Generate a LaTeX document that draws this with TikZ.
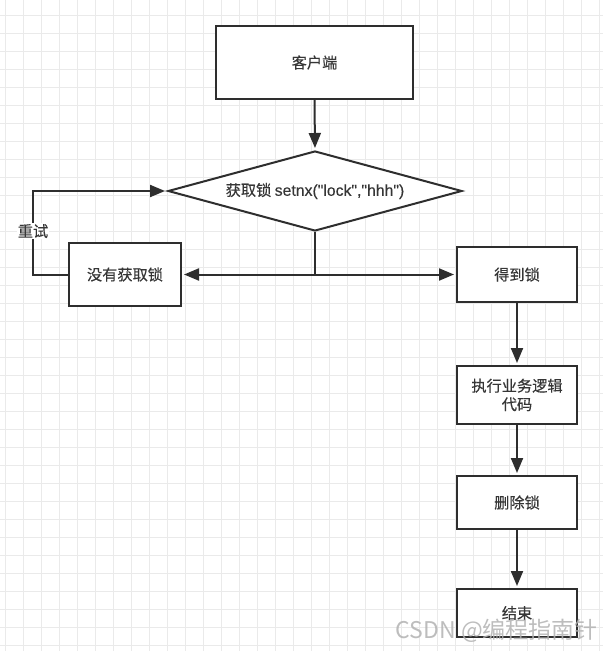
\documentclass[tikz,border=0pt]{standalone}
\usepackage{fontspec}
\setmainfont{Noto Sans CJK SC}[Ligatures=TeXOff]
\newfontfamily\lbl{Noto Sans CJK SC}[Ligatures=TeXOff,FakeBold=0.35]
\newfontfamily\lat{Liberation Sans}[Ligatures=TeXOff,FakeBold=0.35]
\usetikzlibrary{arrows.meta,shapes.geometric}
\definecolor{ink}{HTML}{2E2E2E}
\definecolor{txt}{HTML}{363636}
\definecolor{gridminor}{HTML}{EAEAEA}
\tikzset{
  lblfont/.style={font=\lbl\fontsize{15.2}{18.5}\selectfont},
  box/.style={draw=ink, line width=2pt, fill=white, text=txt, lblfont, align=center, inner sep=0pt},
  conn/.style={draw=ink, line width=2pt},
  arr/.style={conn, -{Triangle[length=15pt,width=12pt]}, shorten >=2pt},
}
\begin{document}
\begin{tikzpicture}[x=1pt,y=-1pt]
\useasboundingbox (0,0) rectangle (603,651);
\fill[white] (0,0) rectangle (603,651);
% grid
\foreach \i in {0,...,33} {
  \pgfmathsetmacro{\xx}{5+18*\i}
  \draw[gridminor, line width=0.8pt] (\xx,0) -- (\xx,651);
}
\foreach \i in {0,...,35} {
  \pgfmathsetmacro{\yy}{15+18*\i}
  \draw[gridminor, line width=0.8pt] (0,\yy) -- (603,\yy);
}
% nodes
\node[box, minimum width=197pt, minimum height=73pt] (client) at (314.5,62.5) {客户端};
\node[box, shape=diamond, aspect=3.675, minimum width=294pt, minimum height=80pt] (dec) at (315,191) {获取锁 {\lat\fontsize{15.8}{18.5}\selectfont setnx(\char34 lock\char34,\char34 hhh\char34)}};
\node[box, minimum width=112pt, minimum height=63pt] (nolock) at (125,274.5) {没有获取锁};
\node[box, minimum width=120pt, minimum height=55pt] (got) at (517,274.5) {得到锁};
\node[box, minimum width=120pt, minimum height=58pt] (exec) at (517,395) {执行业务逻辑\\代码};
\node[box, minimum width=120pt, minimum height=53pt] (del) at (517,502.5) {删除锁};
\node[box, minimum width=120pt, minimum height=48pt] (end) at (517,613) {结束};
\coordinate (j) at (dec.south |- nolock.east);
\coordinate (loop) at (33,274.5);
% connectors
\draw[arr] (client.south) -- (dec.north);
\draw[conn] (dec.south) -- (j);
\draw[arr] (j) -- (nolock.east);
\draw[arr] (j) -- (got.west);
\draw[arr] (nolock.west) -- (loop) |- node[pos=0.26, fill=white, text=txt, lblfont, inner sep=1pt] (retry) {重试} (dec.west);
\draw[arr] (got.south) -- (exec.north);
\draw[arr] (exec.south) -- (del.north);
\draw[arr] (del.south) -- (end.north);
% watermark
\node[text=black!30, opacity=0.85, font=\fontsize{23}{26}\selectfont, anchor=east, inner sep=0pt] (wm) at (598,631) {CSDN @编程指南针};
\end{tikzpicture}
\end{document}
